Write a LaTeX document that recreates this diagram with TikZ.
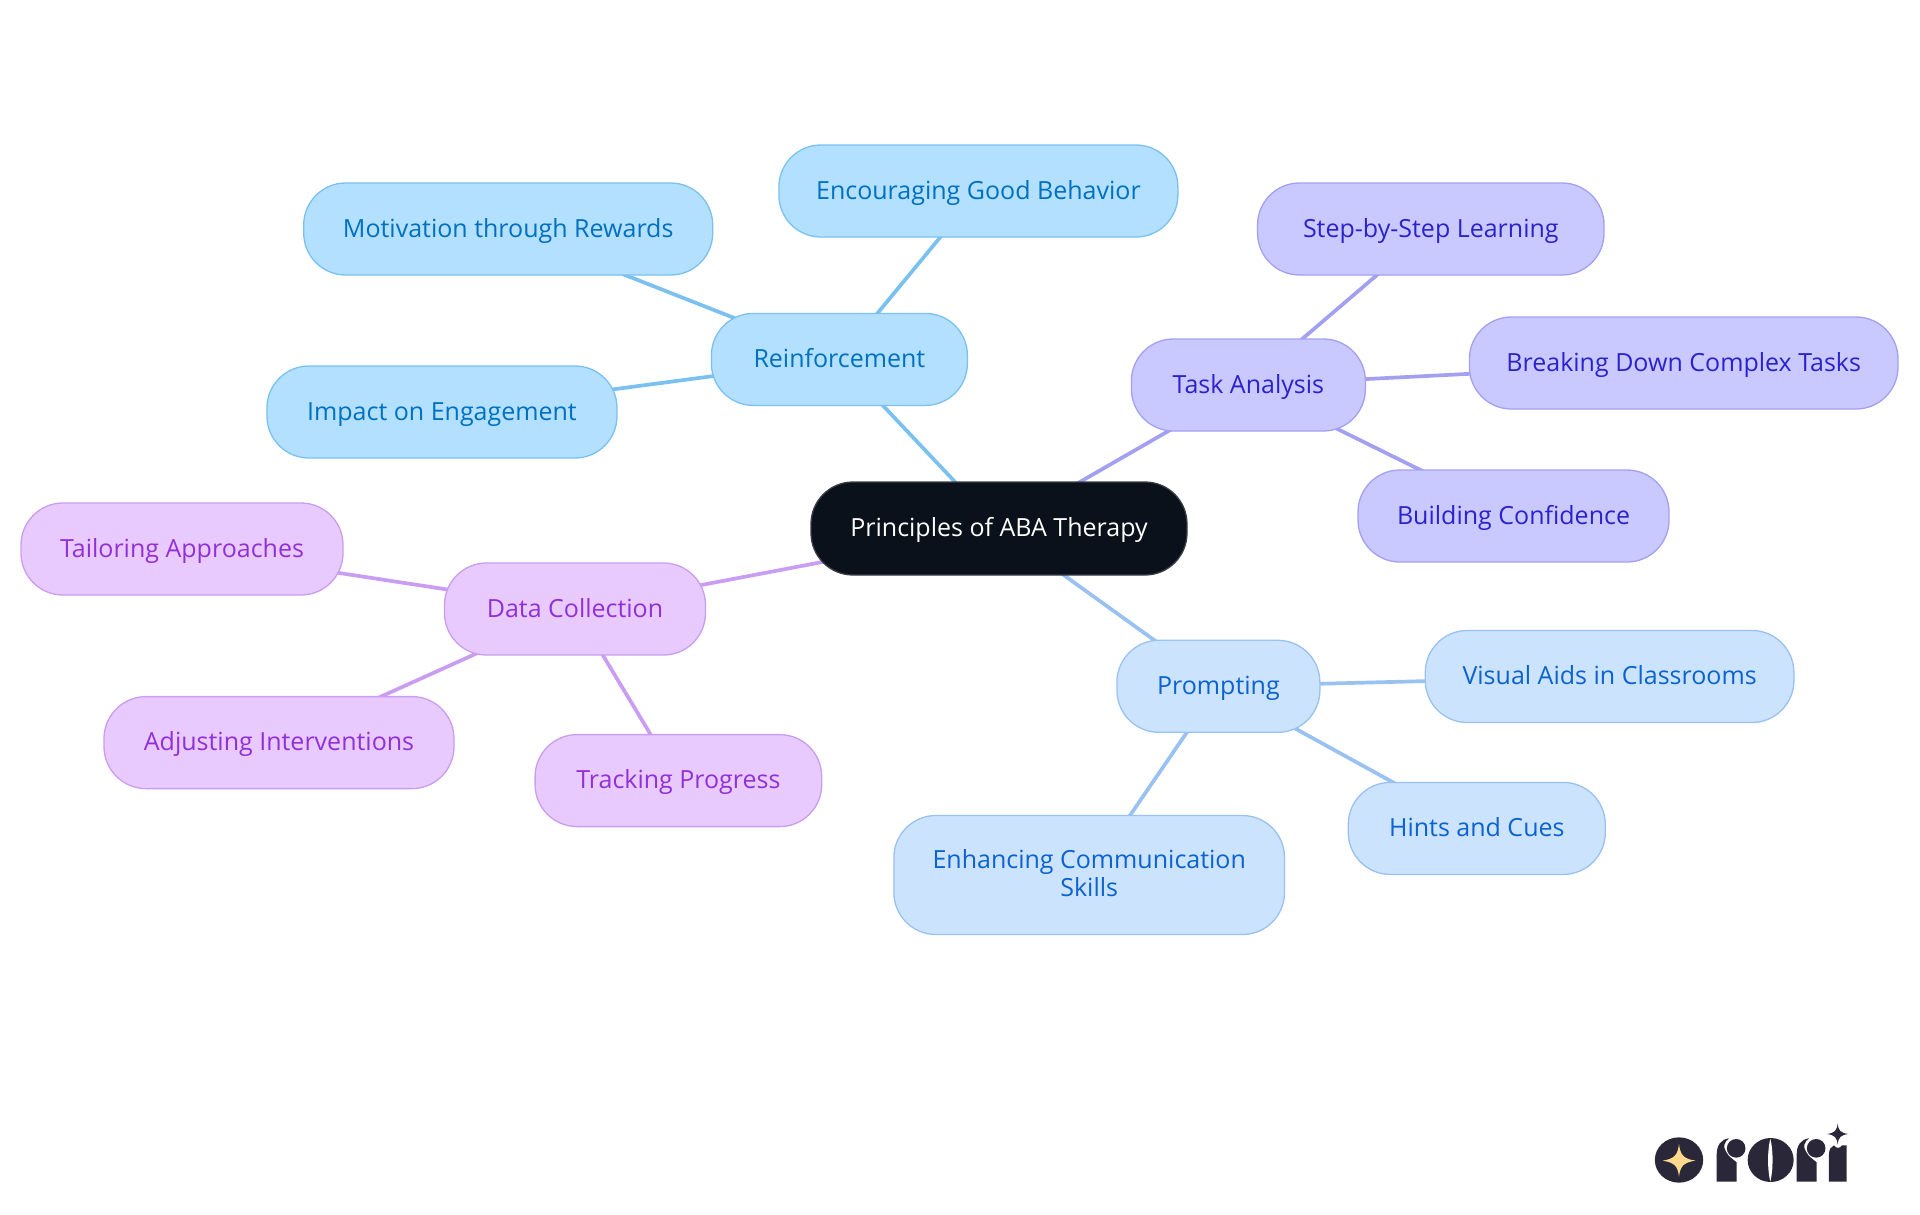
\documentclass[tikz,border=0pt]{standalone}
\usepackage{fontspec}
\setmainfont{Open Sans}
\usetikzlibrary{backgrounds}
\definecolor{rootfill}{HTML}{0B111A}
\definecolor{rootline}{HTML}{3A3F47}
\definecolor{bluef}{HTML}{B3E0FF}\definecolor{bluel}{HTML}{7AC1F2}\definecolor{bluet}{HTML}{0070C0}
\definecolor{violf}{HTML}{C9C9FF}\definecolor{violl}{HTML}{A3A0F2}\definecolor{violt}{HTML}{2B22CC}
\definecolor{purpf}{HTML}{E8CAFF}\definecolor{purpl}{HTML}{C99DF2}\definecolor{purpt}{HTML}{9230D8}
\definecolor{skyf}{HTML}{CCE3FD}\definecolor{skyl}{HTML}{99C1F2}\definecolor{skyt}{HTML}{0B63CF}
\definecolor{logod}{HTML}{2A2838}
\definecolor{logos}{HTML}{FFD98C}
\tikzset{
 mm/.style={rectangle,rounded corners=42pt,line width=1.3pt,align=center,inner sep=0pt,
   minimum height=92pt,text height=20pt,text depth=3.4pt,font=\fontsize{25}{27.7}\selectfont},
 rootn/.style={mm,fill=rootfill,draw=rootline,text=white,minimum height=93pt},
 bl/.style={mm,fill=bluef,draw=bluel,text=bluet},
 vi/.style={mm,fill=violf,draw=violl,text=violt},
 pu/.style={mm,fill=purpf,draw=purpl,text=purpt},
 sk/.style={mm,fill=skyf,draw=skyl,text=skyt},
 link/.style={line width=3.7pt},
 logoshape/.style={fill=logod,draw=none}
}
\begin{document}
\begin{tikzpicture}[x=1pt,y=-1pt]
\useasboundingbox (0,0) rectangle (1920,1215);
\node[rootn,minimum width=376pt] (root) at (999,528.5) {Principles of ABA Therapy};
\node[bl,minimum width=256pt] (rein) at (839.4,359.4) {Reinforcement};
\node[bl,minimum width=399pt] (enc) at (978.4,191) {Encouraging Good Behavior};
\node[bl,minimum width=409pt] (mot) at (508.2,229) {Motivation through Rewards};
\node[bl,minimum width=350pt] (imp) at (442,412) {Impact on Engagement};
\node[vi,minimum width=234pt] (task) at (1248.4,385) {Task Analysis};
\node[vi,minimum width=346.5pt] (step) at (1430.8,229) {Step-by-Step Learning};
\node[vi,minimum width=428.6pt] (brk) at (1683.7,363) {Breaking Down Complex Tasks};
\node[vi,minimum width=311pt] (bld) at (1513.5,516) {Building Confidence};
\node[pu,minimum width=261pt] (data) at (575,609) {Data Collection};
\node[pu,minimum width=322pt] (tail) at (182,549) {Tailoring Approaches};
\node[pu,minimum width=350pt] (adj) at (279,742.6) {Adjusting Interventions};
\node[pu,minimum width=286.6pt] (trk) at (678.4,780.6) {Tracking Progress};
\node[sk,minimum width=203pt] (pr) at (1218.4,686.3) {Prompting};
\node[sk,minimum width=368.6pt] (vis) at (1609.6,676.5) {Visual Aids in Classrooms};
\node[sk,minimum width=257pt] (hin) at (1476.8,828.4) {Hints and Cues};
\node[sk,minimum width=390.6pt,minimum height=119pt,text height=50pt,text depth=8pt] (enh) at (1089.2,875) {Enhancing Communication\\Skills};
\begin{scope}[on background layer]
\fill[white] (0,0) rectangle (1920,1215);
\draw[link,bluel] (root.center)--(rein.center) (rein.center)--(enc.center) (rein.center)--(mot.center) (rein.center)--(imp.center);
\draw[link,violl] (root.center)--(task.center) (task.center)--(step.center) (task.center)--(brk.center) (task.center)--(bld.center);
\draw[link,purpl] (root.center)--(data.center) (data.center)--(tail.center) (data.center)--(adj.center) (data.center)--(trk.center);
\draw[link,skyl] (root.center)--(pr.center) (pr.center)--(vis.center) (pr.center)--(hin.center) (pr.center)--(enh.center);
\end{scope}
% logo: unit = zoom pixels
\begin{scope}[shift={(1620,1100)},x=0.3333pt,y=-0.3333pt]
\fill[logoshape] (177,180) ellipse [x radius=72.5,y radius=68];
\fill[logos] (177,132) .. controls (181,165) and (190,176) .. (226,182) .. controls (190,188) and (181,198) .. (177,230) .. controls (173,198) and (164,188) .. (128,182) .. controls (164,176) and (173,165) .. (177,132) -- cycle;
\foreach \dx in {0,240}{
\fill[logoshape,xshift=\dx*0.3333pt] (290,245) -- (290,165) .. controls (290,135) and (303,118) .. (327,115) .. controls (313,125) and (308,140) .. (318,155) .. controls (325,170) and (340,178) .. (350,187) -- (350,245) -- cycle;
\fill[logoshape,xshift=\dx*0.3333pt] (348.5,145) circle [radius=28];
}
\fill[logoshape] (452,180) ellipse [x radius=69,y radius=66];
\fill[white] (451,116) .. controls (442,150) and (442,210) .. (451,245) .. controls (460,210) and (460,150) .. (451,116) -- cycle;
\fill[logoshape] (627,245) -- (627,162) .. controls (627,148) and (633,140) .. (642,136) .. controls (648,146) and (660,146) .. (666,136) -- (680,136) -- (680,245) -- cycle;
\fill[logoshape] (653,70) .. controls (655,92) and (662,99) .. (685,102) .. controls (662,105) and (655,112) .. (653,134) .. controls (651,112) and (644,105) .. (621,102) .. controls (644,99) and (651,92) .. (653,70) -- cycle;
\end{scope}
\end{tikzpicture}
\end{document}
